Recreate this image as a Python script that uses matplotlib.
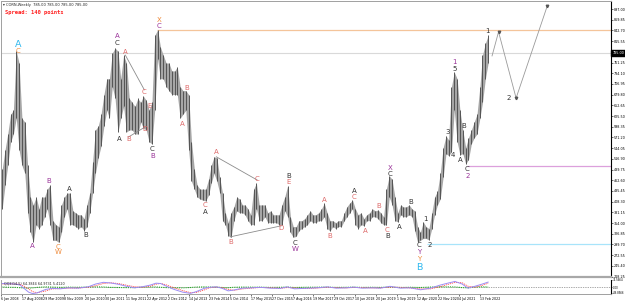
import matplotlib
matplotlib.use("Agg")
import matplotlib.pyplot as plt
import numpy as np
import pandas as pd

START = pd.Timestamp("2008-01-06")   # first weekly bar on the chart

# monthly high / low of the weekly bars
high_2008 = [490, 540, 580, 630, 640, 790, 760, 620, 610, 500, 420, 400]
low_2008 = [390, 450, 500, 560, 580, 620, 540, 500, 480, 380, 330, 305]
high_2009 = [420, 390, 420, 420, 440, 450, 360, 350, 345, 400, 420, 430]
low_2009 = [350, 340, 350, 370, 390, 350, 310, 310, 305, 330, 370, 390]
high_2010 = [430, 385, 380, 375, 375, 365, 400, 430, 510, 590, 600, 630]
low_2010 = [350, 350, 345, 340, 345, 335, 345, 380, 430, 480, 520, 550]
high_2011 = [680, 720, 720, 785, 798, 790, 720, 780, 760, 670, 660, 650]
low_2011 = [600, 640, 620, 700, 670, 585, 620, 650, 585, 590, 590, 580]
high_2012 = [670, 660, 676, 665, 641, 660, 830, 844, 800, 780, 760, 760]
low_2012 = [580, 610, 595, 590, 560, 555, 640, 770, 720, 720, 700, 690]
high_2013 = [740, 740, 750, 700, 690, 690, 680, 560, 490, 450, 440, 440]
low_2013 = [680, 680, 680, 620, 630, 640, 540, 460, 440, 420, 415, 412]
high_2014 = [440, 465, 500, 522, 520, 470, 430, 380, 355, 380, 395, 420]
low_2014 = [410, 425, 455, 480, 460, 430, 360, 350, 322, 318, 360, 385]
high_2015 = [415, 400, 400, 390, 375, 440, 455, 400, 400, 400, 380, 385]
low_2015 = [380, 380, 375, 360, 350, 350, 390, 360, 360, 370, 355, 355]
high_2016 = [375, 375, 375, 400, 420, 448, 370, 345, 345, 360, 360, 365]
low_2016 = [355, 355, 350, 350, 385, 370, 330, 318, 320, 335, 340, 345]
high_2017 = [375, 385, 375, 375, 380, 390, 404, 380, 360, 360, 355, 360]
low_2017 = [350, 360, 355, 355, 360, 360, 370, 340, 334, 345, 340, 345]
high_2018 = [360, 380, 395, 405, 412, 390, 375, 380, 365, 375, 380, 390]
low_2018 = [345, 360, 370, 380, 390, 350, 340, 350, 347, 360, 360, 370]
high_2019 = [385, 387, 380, 370, 440, 474, 465, 420, 380, 400, 395, 395]
low_2019 = [370, 365, 355, 350, 349, 420, 400, 360, 357, 375, 370, 370]
high_2020 = [400, 390, 385, 345, 330, 357, 345, 340, 380, 420, 435, 480]
low_2020 = [375, 370, 335, 305, 310, 315, 315, 311, 340, 375, 400, 415]
high_2021 = [545, 575, 565, 700, 737, 720, 640, 590, 545, 570, 590, 610]
low_2021 = [470, 530, 525, 534, 640, 560, 527, 530, 504, 515, 555, 570]
high_2022 = [630, 700, 780, 810, 830]
low_2022 = [580, 620, 660, 720, 760]

highs = (high_2008 + high_2009 + high_2010 + high_2011 + high_2012 + high_2013 + high_2014
         + high_2015 + high_2016 + high_2017 + high_2018 + high_2019 + high_2020 + high_2021 + high_2022)
lows = (low_2008 + low_2009 + low_2010 + low_2011 + low_2012 + low_2013 + low_2014
        + low_2015 + low_2016 + low_2017 + low_2018 + low_2019 + low_2020 + low_2021 + low_2022)
last_price = 785.0

# horizontal levels: (start week, price)
level_2012_high = (240, 843.75)
level_2021_low = (717, 499)
level_2020_low = (655, 301)

# wave labels: (week, price, text)
labels_dark = [(178.5, 811, "C"), (181.5, 567, "A"), (232.3, 542, "C"), (104.6, 440, "A"),
               (129.2, 324, "B"), (313.8, 382, "A"), (441.5, 473, "B"), (543, 435, "A"),
               (598.5, 478, "C"), (452.3, 303, "C"), (593.8, 321, "B"), (612.3, 344, "A"),
               (629.2, 407, "B"), (652.3, 364, "1"), (643, 298, "C"), (658.5, 298, "2"),
               (686, 585, "3"), (695.4, 527, "4"), (706, 514, "A"), (710.8, 600, "B"),
               (716.9, 491, "C"), (697, 745, "5"), (747.7, 841, "1"), (780, 671, "2")]
labels_salmon = [(190.8, 788, "A"), (220, 686, "C"), (284.6, 697, "B"), (227.7, 651, "E"),
                 (195.4, 567, "B"), (221.5, 593, "D"), (278.5, 605, "A"), (313.8, 400, "C"),
                 (330.8, 534, "A"), (393.8, 466, "C"), (441.5, 458, "E"), (543, 420, "C"),
                 (496.9, 412, "A"), (352.3, 306, "B"), (430.8, 341, "D"), (504.6, 321, "B"),
                 (560, 334, "A"), (580, 397, "B"), (593.8, 336, "C")]
labels_purple = [(178.5, 829, "A"), (243, 854, "C"), (232.3, 524, "B"), (72.3, 461, "B"),
                 (47.7, 296, "A"), (452.3, 288, "W"), (598.5, 494, "X"), (643, 281, "Y"),
                 (716.9, 473, "2"), (697, 763, "1")]
labels_orange = [(26.2, 790, "C"), (243, 869, "X"), (87.7, 293, "C"), (87.7, 281, "W"),
                 (643, 263, "Y")]
labels_cyan = [(26.2, 808, "A"), (643, 242, "B")]

# triangle boundary lines: ((week, price), (week, price))
tri_lines = [((190.8, 780), (220, 692)), ((195.4, 572), (221.5, 598)),
             ((330.8, 522), (393.8, 463)), ((352.3, 319), (430.8, 347))]
# projected path after the last bar
proj_week = [755, 765, 792, 840]
proj_price = [778, 839, 671, 905]

# oscillator in the lower panel
osc_week = [0, 11, 22, 29, 35, 42, 48, 55, 68, 78, 91, 103, 118, 134, 145, 157, 168, 180, 192, 205,
            217, 229, 238, 245, 254, 266, 279, 291, 300, 312, 320, 331, 340, 349, 358, 371, 386, 398,
            414, 429, 440, 451, 466, 485, 502, 515, 531, 542, 555, 571, 583, 598, 614, 629, 645, 660,
            675, 688, 698, 709, 718, 729, 740, 749]
osc_main = [35, 33, 30, 20, -10, -45, -58, -52, -20, -10, -14, -5, -8, 5, 30, 46, 40, 28, 10, -5,
            5, 20, 38, 35, 10, -20, -45, -56, -40, -10, 0, 4, -10, -33, -25, -8, -5, 0, -8, -10,
            4, -14, -10, -5, 4, -8, -5, 2, -8, -5, -8, 9, -8, -5, -23, -8, 20, 40, 54, 30,
            -8, 10, 30, 48]
osc_signal = [30, 33, 31, 26, 10, -15, -40, -50, -35, -15, -12, -8, -7, 0, 15, 35, 42, 35, 20, 5,
              0, 10, 28, 36, 22, -5, -30, -50, -48, -25, -5, 2, -3, -20, -28, -15, -7, -2, -4, -9,
              -3, -6, -12, -7, 0, -3, -6, -2, -3, -6, -6, 2, 0, -6, -15, -15, 5, 28, 45, 42,
              10, 0, 18, 38]
osc_hist = [3, 0, -1, -4, -6, -8, -5, -1, 4, 2, -1, 1, 0, 2, 4, 3, -1, -2, -3, -3,
            1, 3, 3, 0, -3, -4, -5, -2, 2, 4, 2, 1, -2, -4, 0, 2, 1, 1, -1, 0,
            2, -2, 0, 1, 1, -1, 0, 1, -1, 0, -1, 2, -2, 0, -2, 2, 4, 4, 3, -3,
            -5, 2, 4, 3]

date_labels = ["6 Jan 2008", "17 Aug 2008", "29 Mar 2009", "8 Nov 2009", "20 Jun 2010",
               "30 Jan 2011", "11 Sep 2011", "22 Apr 2012", "2 Dec 2012", "14 Jul 2013",
               "23 Feb 2014", "5 Oct 2014", "17 May 2015", "27 Dec 2015", "7 Aug 2016",
               "19 Mar 2017", "29 Oct 2017", "10 Jun 2018", "20 Jan 2019", "1 Sep 2019",
               "12 Apr 2020", "22 Nov 2020", "4 Jul 2021", "13 Feb 2022"]

CYAN = "#2fb8ee"
ORANGE = "#ee8a3a"
PURPLE = "#9a3399"
SALMON = "#de6a6a"
DARK = "#333333"

# bar positions: middle of each month, in weeks from START
months = pd.date_range("2008-01-01", periods=len(highs), freq="MS") + pd.Timedelta(days=14)
bar_week = ((months - START) / pd.Timedelta(weeks=1)).values
tick_week = np.arange(len(date_labels)) * 32

W, H = 625, 301
fig = plt.figure(figsize=(W / 100, H / 100), dpi=100)


def box(x0, y0, x1, y1):
    return [x0 / W, 1 - y1 / H, (x1 - x0) / W, (y1 - y0) / H]


ax = fig.add_axes(box(1, 1, 611, 277))
ax2 = fig.add_axes(box(1, 279.5, 611, 294))
XMAX = 938

# price bars: grey band with darker bar strokes
ax.fill_between(bar_week, lows, highs, color="#a6a6a6", lw=0, zorder=2)
ax.vlines(bar_week, lows, highs, color="#4e4e4e", lw=0.65, zorder=2)

# levels
ax.axhline(last_price, color="#d9d9d9", lw=0.8, zorder=1)
for start, price, col in [(*level_2012_high, "#f4c49a"), (*level_2021_low, "#dca0dc"),
                          (*level_2020_low, "#a8e4fa")]:
    ax.hlines(price, start, XMAX, color=col, lw=0.9, zorder=1)

for (w0, p0), (w1, p1) in tri_lines:
    ax.plot([w0, w1], [p0, p1], color="#8c8c8c", lw=0.6, zorder=3)
ax.plot(proj_week, proj_price, color="#9a9a9a", lw=0.6, zorder=3)
ax.plot(proj_week[1:], proj_price[1:], ls="none", marker="v", ms=1.8, color="#555555", zorder=4)

for items, col in [(labels_dark, DARK), (labels_salmon, SALMON), (labels_purple, PURPLE),
                   (labels_orange, ORANGE)]:
    for w, p, t in items:
        ax.text(w, p, t, color=col, fontsize=5, ha="center", va="center", zorder=5)
for w, p, t in labels_cyan:
    ax.text(w, p, t, color=CYAN, fontsize=6.8, ha="center", va="center", zorder=5)

ax.set_xlim(-0.5, XMAX)
ax.set_ylim(217.1, 917.3)
ax.set_xticks([])
price_ticks = [t for t in np.arange(897.0, 210, -27.15) if abs(t - last_price) > 12]
ax.yaxis.tick_right()
ax.set_yticks(price_ticks)
ax.set_yticklabels([f"{t:.2f}" for t in price_ticks])
ax.tick_params(axis="y", labelsize=2.4, length=1.2, width=0.4, pad=0.6)
ax.text(1.002, last_price, f"{last_price:.2f}", transform=ax.get_yaxis_transform(),
        color="white", fontsize=2.4, va="center", ha="left",
        bbox=dict(boxstyle="square,pad=0.3", fc="black", ec="black"))

for s in ["top", "left"]:
    ax.spines[s].set_color("#a0a0a0")
    ax.spines[s].set_linewidth(0.7)
ax.spines["bottom"].set_color("#a8a8a8")
ax.spines["bottom"].set_linewidth(1.6)
ax.spines["right"].set_color("black")
ax.spines["right"].set_linewidth(0.8)

ax.text(0.004, 0.992, "\u25be CORN,Weekly  785.00 785.00 785.00 785.00", transform=ax.transAxes,
        fontsize=2.6, va="top", ha="left", color="#222222")
ax.text(0.007, 0.968, "Spread: 140 points", transform=ax.transAxes, fontsize=4.0,
        family="DejaVu Sans Mono", weight="bold", va="top", ha="left", color="#ff2020")

# lower panel
ax2.axhline(0, color="#555555", lw=0.5, ls=(0, (1, 1.5)))
ax2.plot(osc_week, osc_hist, color="#22aa22", lw=0.8, ls=(0, (1, 1)))
ax2.plot(osc_week, osc_signal, color="#ff5050", lw=0.6, ls=(0, (1.5, 1)))
ax2.plot(osc_week, osc_main, color="#9c8cf5", lw=0.7)
ax2.set_xlim(-0.5, XMAX)
ax2.set_ylim(-62, 72)
ax2.yaxis.tick_right()
ax2.set_yticks([71.57, 0, -49.86])
ax2.set_yticklabels(["71.5664", "0.00", "-49.8566"])
ax2.tick_params(axis="y", labelsize=1.9, length=1.0, width=0.4, pad=0.5)
ax2.set_xticks(tick_week)
ax2.set_xticklabels(date_labels, ha="left")
ax2.tick_params(axis="x", labelsize=2.3, length=1.5, width=0.4, pad=0.6)
ax2.text(0.005, 0.86, "QQE(14,5) 64.3844 64.9731 5.4120", transform=ax2.transAxes,
         fontsize=2.4, va="top", ha="left", color="#222222")
for s in ["top", "left", "bottom"]:
    ax2.spines[s].set_color("#a0a0a0")
    ax2.spines[s].set_linewidth(0.7)
ax2.spines["top"].set_visible(False)
ax2.spines["right"].set_color("black")
ax2.spines["right"].set_linewidth(0.8)

fig.savefig("out.png", dpi=100)
